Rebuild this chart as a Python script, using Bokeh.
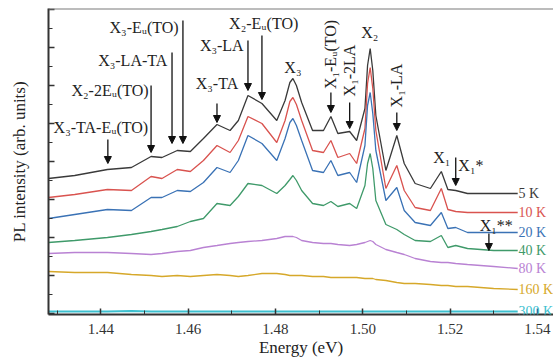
import math
from bokeh.plotting import figure
from bokeh.models import (ColumnDataSource, Arrow, NormalHead, FixedTicker, Span, Range1d, LabelSet)
from bokeh.core.properties import value
from bokeh.embed import file_html
from bokeh.resources import INLINE

# ---- data (energy in eV, PL intensity in arbitrary units, offset per temperature) ----
energy = [1.428, 1.434, 1.4415, 1.447, 1.4515, 1.454, 1.4575, 1.4605, 1.4635, 1.4666,
          1.4696, 1.4715, 1.4737, 1.4769, 1.4803, 1.4822, 1.4833, 1.4840, 1.4848, 1.4860, 1.4885, 1.4910,
          1.4927, 1.4943, 1.4970, 1.4986, 1.5005, 1.5011, 1.5017, 1.5023, 1.5030, 1.5053, 1.5078, 1.5095,
          1.5120, 1.5155, 1.5180, 1.5195, 1.5213, 1.5240, 1.5300, 1.5355]

pl_5K = [135, 138, 144, 146, 157, 156, 163, 162, 175, 189,
         183, 193, 218, 210, 193, 213, 231, 235, 228, 211, 183, 183,
         197, 180, 182, 173, 205, 248, 265, 243, 198, 143, 178, 150,
         130, 125, 142, 124, 123, 120, 120, 120]
pl_10K = [116, 119, 124, 123, 137, 135, 144, 142, 153, 168,
          161, 173, 197, 190, 171, 193, 212, 216, 209, 193, 163, 161,
          173, 156, 160, 150, 185, 230, 246, 225, 183, 125, 148, 123,
          106, 103, 125, 104, 102, 101, 101, 101]
pl_20K = [95, 99, 104, 103, 116, 116, 123, 122, 131, 146,
          141, 153, 178, 170, 153, 175, 191, 195, 188, 173, 143, 141,
          153, 138, 141, 131, 168, 208, 221, 200, 163, 113, 126, 103,
          91, 88, 101, 85, 86, 81, 81, 81]
pl_40K = [71, 73, 76, 79, 82, 84, 87, 92, 95, 110,
          108, 117, 130, 128, 120, 128, 134, 138, 133, 123, 110, 108,
          112, 107, 110, 105, 128, 150, 160, 145, 113, 89, 84, 79,
          73, 72, 78, 66, 68, 65, 63, 63]
pl_80K = [60, 61, 61, 60, 59, 60, 62, 63, 66, 68,
          70, 71, 72, 73, 75, 77, 77, 77, 76, 73, 71, 70,
          70, 69, 68, 69, 71, 72, 73, 72, 69, 64, 61, 59,
          55, 52, 51, 51, 50, 49, 47, 45]
pl_160K = [42, 41, 41, 39, 38, 37, 38, 37, 38, 39,
           38, 37, 38, 40, 40, 39, 38, 38, 38, 38, 37, 37,
           36, 36, 36, 36, 35, 35, 35, 35, 34, 33, 31, 30,
           30, 29, 28, 28, 27, 27, 25, 24]
pl_300K = [2, 2, 2, 2.5, 2, 2, 2, 2, 2, 2,
           2, 2, 2, 2, 2, 2, 2, 2, 2, 2, 2, 2,
           2, 2, 2, 2, 2, 2, 2, 2, 2, 2, 2, 2,
           2, 2, 2, 2, 2, 2, 2, 2]

temps = ["5 K", "10 K", "20 K", "40 K", "80 K", "160 K", "300 K"]
series = [pl_5K, pl_10K, pl_20K, pl_40K, pl_80K, pl_160K, pl_300K]
colors = ["#3a3a3a", "#d9534f", "#3a72b5", "#3f9a6a", "#b982d3", "#d6a82a", "#3cc0cf"]
widths = [1.3, 1.3, 1.3, 1.3, 1.3, 1.3, 2.2]

# tick values
x_ticks = [1.44, 1.46, 1.48, 1.50, 1.52, 1.54]
x_minor = [1.43, 1.45, 1.47, 1.49, 1.51, 1.53]
y_ticks = [0, 38, 76, 114, 152, 190, 228, 266, 304]
y_minor = [19, 57, 95, 133, 171, 209, 247, 285]

# ---- peak annotations ----
ann_text = ["X\u2083-TA-E\u1d64(TO)", "X\u2082-2E\u1d64(TO)", "X\u2083-LA-TA", "X\u2083-E\u1d64(TO)",
            "X\u2083-TA", "X\u2083-LA", "X\u2082-E\u1d64(TO)", "X\u2083", "X\u2082", "X\u2081"]
ann_x = [1.4400, 1.4421, 1.4473, 1.4499, 1.4666, 1.4677, 1.4773, 1.4840, 1.5016, 1.5181]
ann_y = [186, 223, 253, 286, 230, 268, 290, 246, 281, 156]

rot_text = ["X\u2081-E\u1d64(TO)", "X\u2081-2LA", "X\u2081-LA"]
rot_x = [1.4927, 1.4970, 1.5078]
rot_y = [259, 243, 228]

star_text = ["X\u2081*", "X\u2081**"]
star_x = [1.5219, 1.5268]
star_y = [148, 88]

arr_x = [1.4416, 1.4515, 1.4563, 1.4588, 1.4666, 1.4737, 1.4769, 1.4927, 1.4970, 1.5078, 1.5213, 1.5289]
arr_y0 = [174, 228, 261, 293, 210, 273, 278, 221, 211, 201, 156, 80]
arr_y1 = [150, 161, 170, 170, 191, 223, 214, 201, 185, 183, 128, 63]

SERIF = "Liberation Serif"

p = figure(width=553, height=360, output_backend="svg", toolbar_location=None,
           x_range=Range1d(1.428, 1.5437), y_range=Range1d(-1, 305),
           min_border_left=48, min_border_right=0, min_border_top=8, min_border_bottom=46)
p.outline_line_color = None
p.xgrid.visible = False
p.ygrid.visible = False
p.background_fill_color = "white"

for ys, c, w in zip(series, colors, widths):
    p.line(energy, ys, line_color=c, line_width=w)

# temperature labels
lab_src = ColumnDataSource(dict(x=[energy[-1] + 0.0002] * len(temps),
                                y=[s[-1] for s in series], t=temps, c=colors))
p.add_layout(LabelSet(x="x", y="y", text="t", text_color="c", source=lab_src,
                      text_font=value(SERIF), text_font_size=value("14px"),
                      text_align="left", text_baseline="middle"))

# peak labels
p.text(x=ann_x, y=ann_y, text=ann_text, text_font=value(SERIF),
       text_font_size=value("16px"), text_color="#222222",
       text_align="center", text_baseline="middle")
p.text(x=rot_x, y=rot_y, text=rot_text, angle=math.pi / 2, text_font=value(SERIF),
       text_font_size=value("16px"), text_color="#222222",
       text_align="center", text_baseline="middle")
p.text(x=star_x, y=star_y, text=star_text, text_font=value(SERIF),
       text_font_size=value("16px"), text_color="#222222",
       text_align="left", text_baseline="middle")

arr_src = ColumnDataSource(dict(x=arr_x, y0=arr_y0, y1=arr_y1))
p.add_layout(Arrow(end=NormalHead(size=7, fill_color="#111111", line_color="#111111", line_width=1),
                   x_start="x", y_start="y0", x_end="x", y_end="y1", source=arr_src,
                   line_color="#111111", line_width=1.3))

# top frame line
p.add_layout(Span(location=305, dimension="width", line_color="#7a7a7a", line_width=2))

# axes
xa = p.xaxis[0]
xa.ticker = FixedTicker(ticks=x_ticks, minor_ticks=x_minor)
xa.major_label_overrides = {t: f"{t:.2f}" for t in x_ticks}
xa.axis_label = "Energy (eV)"
xa.axis_label_text_font = SERIF
xa.axis_label_text_font_style = "normal"
xa.axis_label_text_font_size = "17px"
xa.axis_label_text_color = "#222222"
xa.axis_label_standoff = 1
xa.major_label_text_font = SERIF
xa.major_label_text_font_size = "15px"
xa.major_label_text_color = "#333333"
xa.major_label_standoff = 9
xa.axis_line_color = "#333333"
xa.axis_line_width = 2
xa.major_tick_in = 6
xa.major_tick_out = 0
xa.minor_tick_in = 4
xa.minor_tick_out = 0
xa.major_tick_line_color = "#333333"
xa.minor_tick_line_color = "#333333"
xa.major_tick_line_width = 1.5

ya = p.yaxis[0]
ya.ticker = FixedTicker(ticks=y_ticks, minor_ticks=y_minor)
ya.major_label_overrides = {t: "" for t in y_ticks}
ya.major_label_standoff = 0
ya.axis_label = "PL intensity (arb. units)"
ya.axis_label_text_font = SERIF
ya.axis_label_text_font_style = "normal"
ya.axis_label_text_font_size = "17px"
ya.axis_label_text_color = "#222222"
ya.axis_label_standoff = 20
ya.axis_line_color = "#333333"
ya.axis_line_width = 2
ya.major_tick_in = 6
ya.major_tick_out = 0
ya.minor_tick_in = 4
ya.minor_tick_out = 0
ya.major_tick_line_color = "#333333"
ya.minor_tick_line_color = "#333333"
ya.major_tick_line_width = 1.5

open("out.html", "w").write(file_html(p, INLINE))
